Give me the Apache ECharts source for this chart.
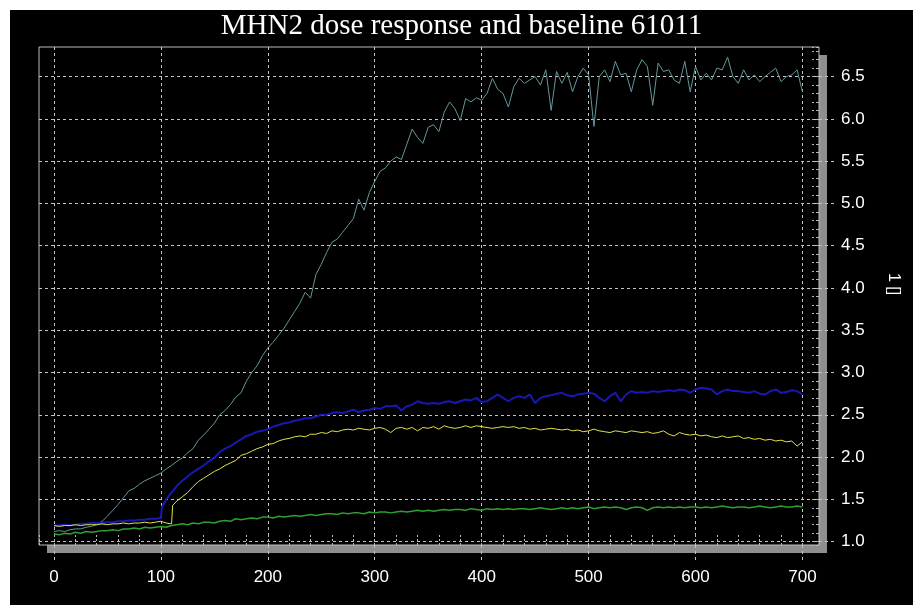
<!DOCTYPE html>
<html>
<head>
<meta charset="utf-8">
<title>MHN2 dose response and baseline 61011</title>
<script src="https://cdn.jsdelivr.net/npm/echarts@6.0.0/dist/echarts.min.js"></script>
<style>
  html, body { margin: 0; padding: 0; background: #fff; }
  #main { position: absolute; left: 10px; top: 10px; width: 903px; height: 595px; }
</style>
</head>
<body>
<div id="main"></div>
<script>
// sample times (the readings around the dose at 100 are a bit denser)
var time = [
  0, 5, 10, 15, 20, 25, 30, 35, 40, 45,
  50, 55, 60, 65, 70, 75, 80, 85, 90, 95,
  100, 101, 105, 110, 111, 115, 120, 125, 130, 135, 140, 145,
  150, 155, 160, 165, 170, 175, 180, 185, 190, 195,
  200, 205, 210, 215, 220, 225, 230, 235, 240, 245,
  250, 255, 260, 265, 270, 275, 280, 285, 290, 295,
  300, 305, 310, 315, 320, 325, 330, 335, 340, 345,
  350, 355, 360, 365, 370, 375, 380, 385, 390, 395,
  400, 405, 410, 415, 420, 425, 430, 435, 440, 445,
  450, 455, 460, 465, 470, 475, 480, 485, 490, 495,
  500, 505, 510, 515, 520, 525, 530, 535, 540, 545,
  550, 555, 560, 565, 570, 575, 580, 585, 590, 595,
  600, 605, 610, 615, 620, 625, 630, 635, 640, 645,
  650, 655, 660, 665, 670, 675, 680, 685, 690, 695,
  700
];

// grey-cyan trace (large response)
var cyanVals = [
  1.12, 1.13, 1.12, 1.14, 1.15, 1.15, 1.17, 1.18, 1.20, 1.24,
  1.30, 1.37, 1.44, 1.52, 1.60, 1.63, 1.68, 1.72, 1.75, 1.78,
  1.81, 1.82, 1.86, 1.90, 1.91, 1.95, 1.99, 2.05, 2.10, 2.20, 2.26, 2.33,
  2.40, 2.50, 2.55, 2.62, 2.71, 2.76, 2.90, 3.00, 3.08, 3.20,
  3.29, 3.36, 3.44, 3.52, 3.62, 3.72, 3.82, 3.95, 3.88, 4.16,
  4.28, 4.42, 4.54, 4.58, 4.66, 4.74, 4.82, 5.05, 4.92, 5.13,
  5.26, 5.38, 5.42, 5.50, 5.55, 5.52, 5.70, 5.88, 5.78, 5.71,
  5.90, 5.93, 5.85, 6.08, 6.20, 6.12, 5.98, 6.24, 6.20, 6.25,
  6.22, 6.30, 6.48, 6.35, 6.30, 6.14, 6.38, 6.48, 6.42, 6.46,
  6.50, 6.40, 6.58, 6.10, 6.56, 6.42, 6.55, 6.32, 6.50, 6.60,
  6.52, 5.91, 6.50, 6.58, 6.44, 6.68, 6.52, 6.54, 6.32, 6.58,
  6.70, 6.62, 6.16, 6.66, 6.56, 6.58, 6.46, 6.42, 6.68, 6.32,
  6.62, 6.46, 6.54, 6.46, 6.60, 6.58, 6.73, 6.50, 6.42, 6.58,
  6.46, 6.52, 6.44, 6.50, 6.55, 6.60, 6.44, 6.50, 6.52, 6.58,
  6.32
];

// blue trace
var blueVals = [
  1.19, 1.19, 1.20, 1.19, 1.20, 1.21, 1.21, 1.22, 1.22, 1.22,
  1.23, 1.23, 1.24, 1.24, 1.25, 1.25, 1.26, 1.26, 1.27, 1.27,
  1.28, 1.41, 1.50, 1.58, 1.60, 1.66, 1.72, 1.77, 1.82, 1.86, 1.90, 1.95,
  1.99, 2.06, 2.10, 2.13, 2.17, 2.21, 2.25, 2.27, 2.30, 2.31,
  2.33, 2.36, 2.38, 2.40, 2.41, 2.43, 2.44, 2.46, 2.46, 2.48,
  2.50, 2.50, 2.52, 2.53, 2.52, 2.54, 2.56, 2.53, 2.55, 2.56,
  2.58, 2.57, 2.60, 2.60, 2.61, 2.55, 2.60, 2.62, 2.66, 2.64,
  2.63, 2.64, 2.63, 2.65, 2.66, 2.64, 2.66, 2.68, 2.67, 2.70,
  2.65, 2.66, 2.70, 2.74, 2.70, 2.66, 2.70, 2.72, 2.70, 2.74,
  2.64, 2.70, 2.72, 2.73, 2.75, 2.76, 2.73, 2.72, 2.74, 2.75,
  2.76, 2.75, 2.70, 2.66, 2.72, 2.76, 2.66, 2.74, 2.78, 2.76,
  2.77, 2.76, 2.78, 2.77, 2.78, 2.79, 2.78, 2.80, 2.79, 2.76,
  2.80, 2.82, 2.81, 2.80, 2.74, 2.78, 2.80, 2.78, 2.78, 2.77,
  2.76, 2.78, 2.75, 2.74, 2.78, 2.80, 2.76, 2.77, 2.79, 2.78,
  2.74
];

// yellow trace
var yellowVals = [
  1.19, 1.18, 1.19, 1.19, 1.20, 1.19, 1.20, 1.20, 1.20, 1.21,
  1.20, 1.21, 1.21, 1.22, 1.21, 1.22, 1.22, 1.23, 1.22, 1.23,
  1.24, 1.23, 1.22, 1.21, 1.43, 1.48, 1.53, 1.58, 1.65, 1.71, 1.75, 1.79,
  1.83, 1.86, 1.90, 1.93, 1.96, 2.02, 2.04, 2.07, 2.10, 2.12,
  2.15, 2.16, 2.19, 2.21, 2.22, 2.24, 2.25, 2.24, 2.27, 2.27,
  2.29, 2.28, 2.31, 2.30, 2.32, 2.33, 2.32, 2.34, 2.33, 2.32,
  2.34, 2.35, 2.33, 2.29, 2.34, 2.35, 2.33, 2.35, 2.31, 2.35,
  2.34, 2.36, 2.33, 2.37, 2.35, 2.34, 2.35, 2.37, 2.35, 2.37,
  2.36, 2.35, 2.34, 2.35, 2.36, 2.35, 2.36, 2.34, 2.35, 2.33,
  2.34, 2.32, 2.33, 2.34, 2.33, 2.32, 2.33, 2.31, 2.32, 2.30,
  2.31, 2.33, 2.31, 2.30, 2.29, 2.31, 2.30, 2.29, 2.31, 2.30,
  2.29, 2.30, 2.28, 2.29, 2.31, 2.27, 2.25, 2.29, 2.27, 2.26,
  2.27, 2.25, 2.26, 2.24, 2.23, 2.25, 2.23, 2.24, 2.25, 2.22,
  2.23, 2.21, 2.22, 2.20, 2.21, 2.19, 2.20, 2.18, 2.19, 2.13,
  2.18
];

// green trace (baseline)
var greenVals = [
  1.09, 1.08, 1.10, 1.09, 1.11, 1.10, 1.12, 1.11, 1.12, 1.13,
  1.13, 1.14, 1.13, 1.15, 1.15, 1.16, 1.15, 1.17, 1.16, 1.17,
  1.18, 1.18, 1.17, 1.19, 1.19, 1.20, 1.21, 1.20, 1.22, 1.21, 1.23, 1.23,
  1.22, 1.24, 1.25, 1.24, 1.27, 1.26, 1.27, 1.28, 1.27, 1.29,
  1.29, 1.28, 1.30, 1.29, 1.30, 1.31, 1.30, 1.31, 1.32, 1.31,
  1.32, 1.33, 1.33, 1.32, 1.34, 1.33, 1.34, 1.34, 1.33, 1.35,
  1.34, 1.35, 1.35, 1.34, 1.35, 1.36, 1.35, 1.36, 1.37, 1.36,
  1.37, 1.36, 1.37, 1.38, 1.37, 1.38, 1.38, 1.37, 1.39, 1.38,
  1.37, 1.39, 1.38, 1.39, 1.38, 1.39, 1.38, 1.39, 1.39, 1.38,
  1.39, 1.40, 1.39, 1.38, 1.39, 1.40, 1.39, 1.40, 1.39, 1.40,
  1.41, 1.39, 1.40, 1.41, 1.40, 1.41, 1.40, 1.38, 1.40, 1.41,
  1.40, 1.37, 1.40, 1.41, 1.40, 1.41, 1.40, 1.41, 1.40, 1.41,
  1.41, 1.40, 1.41, 1.40, 1.41, 1.42, 1.41, 1.40, 1.41, 1.41,
  1.40, 1.41, 1.42, 1.41, 1.40, 1.41, 1.42, 1.41, 1.41, 1.42,
  1.41
];

// tick labels
var xTicks = [0, 100, 200, 300, 400, 500, 600, 700];
var yTicks = [1.0, 1.5, 2.0, 2.5, 3.0, 3.5, 4.0, 4.5, 5.0, 5.5, 6.0, 6.5];

function pairs(xs, ys) {
  var out = [];
  for (var i = 0; i < xs.length; i++) {
    out.push([xs[i], ys[i]]);
  }
  return out;
}

var dash = [3, 3];
var gridColor = '#c4c4c4';
var plotBox = { left: 29, top: 37, width: 780, height: 498 };

var myChart = echarts.init(document.getElementById('main'));

var option = {
  animation: false,
  backgroundColor: '#000',
  title: {
    text: 'MHN2 dose response and baseline 61011',
    left: 'center',
    top: -3,
    textStyle: {
      color: '#fff',
      fontFamily: 'Liberation Serif',
      fontWeight: 'normal',
      fontSize: 29
    }
  },
  grid: [{
    // plot area with the grey drop shadow
    left: plotBox.left,
    top: plotBox.top,
    width: plotBox.width,
    height: plotBox.height,
    show: true,
    backgroundColor: '#000',
    borderWidth: 0,
    shadowColor: '#8e8e8e',
    shadowBlur: 0,
    shadowOffsetX: 8,
    shadowOffsetY: 8
  }, {
    // thin frame only
    left: plotBox.left,
    top: plotBox.top,
    width: plotBox.width,
    height: plotBox.height,
    show: true,
    backgroundColor: 'transparent',
    borderColor: '#bdbdbd',
    borderWidth: 1
  }],
  xAxis: [{
    type: 'value',
    min: -14,
    max: 715.5,
    minInterval: 100,
    maxInterval: 100,
    splitNumber: 7,
    axisLine: { show: false, onZero: false },
    axisTick: {
      show: true,
      length: 15,
      customValues: xTicks,
      lineStyle: { color: gridColor, type: dash }
    },
    axisLabel: {
      color: '#fff',
      fontFamily: 'Liberation Sans',
      fontSize: 17,
      margin: 24,
      customValues: xTicks
    },
    splitLine: { show: true, lineStyle: { color: gridColor, type: dash } }
  }, {
    // small inside ticks every 20
    type: 'value',
    min: -14,
    max: 715.5,
    minInterval: 20,
    maxInterval: 20,
    splitNumber: 36,
    position: 'bottom',
    axisLine: { show: false, onZero: false },
    axisTick: {
      show: true,
      inside: true,
      length: 11,
      lineStyle: { color: '#b8b8b8', type: [2, 2] }
    },
    axisLabel: { show: false },
    splitLine: { show: false }
  }, {
    gridIndex: 1,
    type: 'value',
    show: false,
    min: -14,
    max: 715.5
  }],
  yAxis: [{
    type: 'value',
    position: 'right',
    min: 0.96,
    max: 6.85,
    minInterval: 0.5,
    maxInterval: 0.5,
    splitNumber: 12,
    name: '1 []',
    nameLocation: 'middle',
    nameRotate: -90,
    nameGap: 66,
    nameTextStyle: {
      color: '#fff',
      fontFamily: 'Liberation Sans',
      fontSize: 16,
      padding: [0, 24, 0, 0]
    },
    axisLine: { show: false, onZero: false },
    axisTick: {
      show: true,
      length: 16,
      customValues: yTicks,
      lineStyle: { color: gridColor, type: dash }
    },
    axisLabel: {
      color: '#fff',
      fontFamily: 'Liberation Sans',
      fontSize: 17,
      margin: 22,
      customValues: yTicks,
      formatter: function (v) { return v.toFixed(1); }
    },
    splitLine: { show: true, lineStyle: { color: gridColor, type: dash } }
  }, {
    // small inside ticks every 0.1
    type: 'value',
    position: 'right',
    min: 0.96,
    max: 6.85,
    minInterval: 0.1,
    maxInterval: 0.1,
    splitNumber: 60,
    axisLine: { show: false, onZero: false },
    axisTick: {
      show: true,
      inside: true,
      length: 7,
      lineStyle: { color: '#b8b8b8', type: [3, 2] }
    },
    axisLabel: { show: false },
    splitLine: { show: false }
  }, {
    gridIndex: 1,
    type: 'value',
    show: false,
    min: 0.96,
    max: 6.85
  }],
  series: [{
    name: 'cyan',
    type: 'line',
    showSymbol: false,
    data: pairs(time, cyanVals),
    lineStyle: { color: '#65979a', width: 1 }
  }, {
    name: 'blue',
    type: 'line',
    showSymbol: false,
    data: pairs(time, blueVals),
    lineStyle: { color: '#1818b4', width: 2 }
  }, {
    name: 'yellow',
    type: 'line',
    showSymbol: false,
    data: pairs(time, yellowVals),
    lineStyle: { color: '#e2e24a', width: 1 }
  }, {
    name: 'green',
    type: 'line',
    showSymbol: false,
    data: pairs(time, greenVals),
    lineStyle: { color: '#2f9f2f', width: 1.5 }
  }]
};

myChart.setOption(option);
</script>
</body>
</html>
